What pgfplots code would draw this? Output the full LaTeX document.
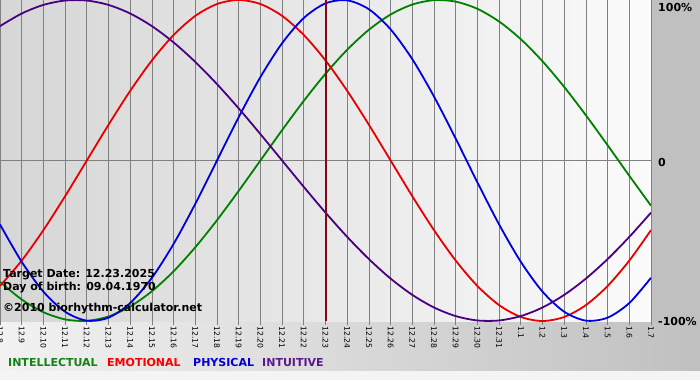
\documentclass[border=0pt]{standalone}
\usepackage{fontspec}
\setmainfont{DejaVu Sans}
\usepackage{pgfplots}
\usepackage{pgfplotstable}
\pgfplotsset{compat=1.18}
\definecolor{cgreen}{RGB}{0,128,0}
\definecolor{cred}{RGB}{232,0,0}
\definecolor{cblue}{RGB}{0,0,220}
\definecolor{cpurple}{RGB}{75,0,130}
\definecolor{lgreen}{RGB}{20,130,20}
\definecolor{lred}{RGB}{250,0,0}
\definecolor{lblue}{RGB}{0,0,210}
\definecolor{lpurple}{RGB}{92,24,140}
\definecolor{gridgray}{RGB}{128,128,128}
\definecolor{target}{RGB}{130,10,20}
\definecolor{margin}{RGB}{192,192,192}
\definecolor{bandleft}{RGB}{242,242,242}
\definecolor{bottomstrip}{RGB}{244,244,244}
\definecolor{bgleft}{RGB}{214,214,214}
\definecolor{bgright}{RGB}{251,251,251}
\pgfplotstableread{
d phy emo intel intu
0 -39.84 -78.18 -75.57 83.72
1 -63.11 -62.35 -86.60 91.58
2 -81.70 -43.39 -94.50 96.94
3 -94.23 -22.25 -98.98 99.66
4 -99.77 0 -99.89 99.66
5 -97.91 22.25 -97.18 96.94
6 -88.79 43.39 -90.96 91.58
7 -73.08 62.35 -81.46 83.72
8 -51.96 78.18 -69.01 73.57
9 -26.98 90.10 -54.06 61.42
10 0 97.49 -37.17 47.59
11 26.98 100 -18.93 32.47
12 51.96 97.49 0 16.46
13 73.08 90.10 18.93 0
14 88.79 78.18 37.17 -16.46
15 97.91 62.35 54.06 -32.47
16 99.77 43.39 69.01 -47.59
17 94.23 22.25 81.46 -61.42
18 81.70 0 90.96 -73.57
19 63.11 -22.25 97.18 -83.72
20 39.84 -43.39 99.89 -91.58
21 13.62 -62.35 98.98 -96.94
22 -13.62 -78.18 94.50 -99.66
23 -39.84 -90.10 86.60 -99.66
24 -63.11 -97.49 75.57 -96.94
25 -81.70 -100 61.82 -91.58
26 -94.23 -97.49 45.82 -83.72
27 -99.77 -90.10 28.17 -73.57
28 -97.91 -78.18 9.51 -61.42
29 -88.79 -62.35 -9.51 -47.59
30 -73.08 -43.39 -28.17 -32.47
}\bio
\begin{document}
\begin{tikzpicture}
\useasboundingbox (0pt,0pt) rectangle (700pt,-380pt);
\fill[margin] (651pt,0pt) rectangle (700pt,-321pt);
\shade[left color=bandleft, right color=margin] (0pt,-321pt) rectangle (700pt,-371pt);
\fill[bottomstrip] (0pt,-371pt) rectangle (700pt,-380pt);
\begin{axis}[
  at={(0pt,0pt)}, anchor=north west,
  scale only axis, width=651pt, height=321pt,
  xmin=0, xmax=30, ymin=-100, ymax=100,
  axis line style={draw=none},
  axis background/.style={left color=bgleft, right color=bgright},
  xtick={0,...,30},
  xticklabels={12.8,12.9,12.10,12.11,12.12,12.13,12.14,12.15,12.16,12.17,12.18,12.19,12.20,12.21,12.22,12.23,12.24,12.25,12.26,12.27,12.28,12.29,12.30,12.31,1.1,1.2,1.3,1.4,1.5,1.6,1.7},
  xticklabel style={rotate=-90, anchor=west, font=\fontsize{7.7}{8}\selectfont, inner sep=0pt},
  xtick pos=bottom, tick align=outside, major tick length=4pt,
  x tick style={gridgray, line width=0.8pt},
  xticklabel shift=1pt,
  ytick={0}, yticklabels={}, y tick style={draw=none},
  xmajorgrids, ymajorgrids,
  grid style={gridgray, line width=0.8pt},
  clip=true,
]
\addplot[cgreen, line width=1.8pt, smooth] table[x=d, y=intel] {\bio};
\addplot[cred, line width=1.8pt, smooth] table[x=d, y=emo] {\bio};
\addplot[cblue, line width=1.8pt, smooth] table[x=d, y=phy] {\bio};
\addplot[cpurple, line width=1.8pt, smooth] table[x=d, y=intu] {\bio};
\addplot[target, line width=2pt] coordinates {(15,-100) (15,100)};
\end{axis}
\begin{scope}[font=\fontsize{11}{13}\selectfont\bfseries]
\node[anchor=base west, inner sep=0pt] at (3pt,-277pt) {Target Date: 12.23.2025};
\node[anchor=base west, inner sep=0pt] at (3pt,-290pt) {Day of birth: 09.04.1970};
\node[anchor=base west, inner sep=0pt] at (3pt,-311pt) {©2010 biorhythm-calculator.net};
\node[anchor=base west, inner sep=0pt] at (658pt,-11pt) {100\%};
\node[anchor=base west, inner sep=0pt] at (658pt,-166pt) {0};
\node[anchor=base west, inner sep=0pt] at (658pt,-325pt) {-100\%};
\node[anchor=base west, inner sep=0pt, lgreen] at (8pt,-366pt) {INTELLECTUAL};
\node[anchor=base west, inner sep=0pt, lred] at (107pt,-366pt) {EMOTIONAL};
\node[anchor=base west, inner sep=0pt, lblue] at (193pt,-366pt) {PHYSICAL};
\node[anchor=base west, inner sep=0pt, lpurple] at (262pt,-366pt) {INTUITIVE};
\end{scope}
\end{tikzpicture}
\end{document}
